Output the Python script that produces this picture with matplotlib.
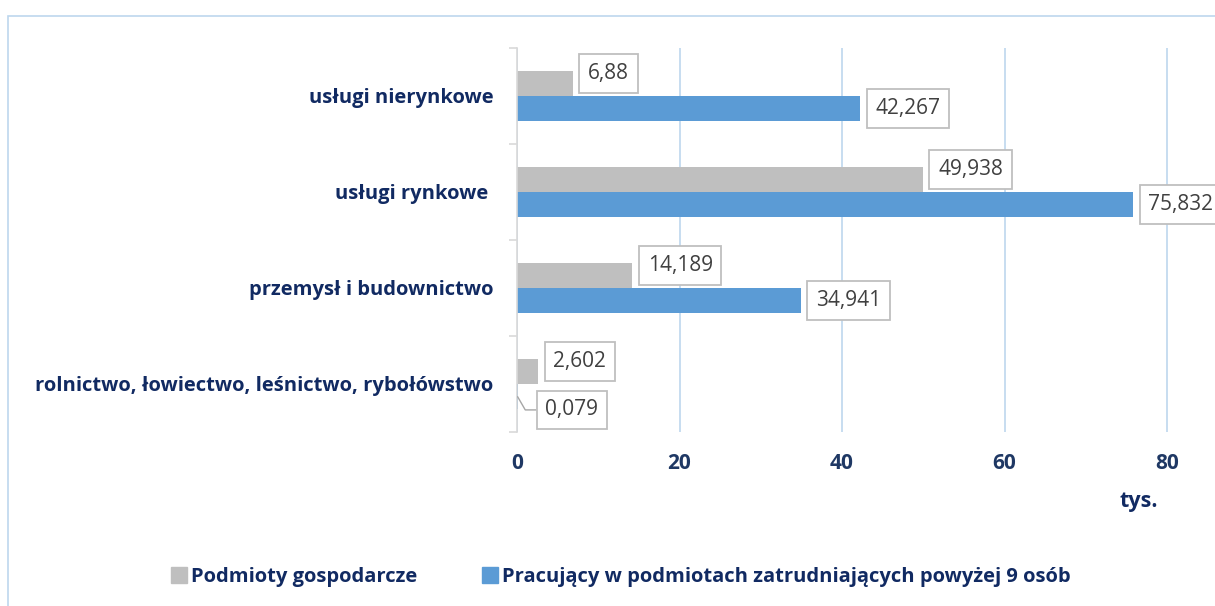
import matplotlib.pyplot as plt
import numpy as np
from matplotlib.patches import Rectangle, Patch

plt.rcParams['font.family'] = ['Open Sans', 'DejaVu Sans']

# data (thousands)
categories = ['rolnictwo, łowiectwo, leśnictwo, rybołówstwo',
              'przemysł i budownictwo',
              'usługi rynkowe ',
              'usługi nierynkowe']
podmioty = [2.602, 14.189, 49.938, 6.88]
pracujacy = [0.079, 34.941, 75.832, 42.267]
podmioty_lbl = ['2,602', '14,189', '49,938', '6,88']
pracujacy_lbl = ['0,079', '34,941', '75,832', '42,267']
series_names = ['Podmioty gospodarcze',
                'Pracujący w podmiotach zatrudniających powyżej 9 osób']

navy = '#1F3864'
navy_dark = '#112A62'
c_gray = '#BFBFBF'
c_blue = '#5B9BD5'

fig = plt.figure(figsize=(12.15, 6.06), dpi=100)
ax = fig.add_axes([517/1215, 1-432/606, 1-517/1215, (432-48)/606])

# chart area border
fig.patches.append(Rectangle((8/1215, -0.1), 1.2, 1-16/606+0.1, transform=fig.transFigure,
                             fill=False, edgecolor='#BDD7EE', lw=1.2))

y = np.arange(len(categories))
h = 0.265
ax.barh(y + h/2, podmioty, height=h, color=c_gray, zorder=2)
ax.barh(y - h/2, pracujacy, height=h, color=c_blue, zorder=2)

box = dict(boxstyle='square,pad=0.42', fc='white', ec='#BFBFBF', lw=1.3)
lbl_kw = dict(textcoords='offset points', va='center', ha='left',
              fontsize=15, color='#404040', bbox=box, zorder=3)
for i in range(len(categories)):
    ax.annotate(podmioty_lbl[i], (podmioty[i], y[i] + h/2), xytext=(11, 7), **lbl_kw)
    if i == 0:
        ax.annotate(pracujacy_lbl[i], (pracujacy[i], y[i] - h/2), xytext=(20, -9.5),
                    arrowprops=dict(arrowstyle='-', color='#A6A6A6', lw=1,
                                    connectionstyle='angle,angleA=0,angleB=-60,rad=0',
                                    shrinkA=0, shrinkB=0), **lbl_kw)
    else:
        ax.annotate(pracujacy_lbl[i], (pracujacy[i], y[i] - h/2), xytext=(11, 0), **lbl_kw)

ax.set_xlim(0, 85.9)
ax.set_ylim(-0.5, len(categories) - 0.5)
ax.set_xticks([0, 20, 40, 60, 80])
ax.xaxis.grid(True, color='#BDD7EE', lw=1.2)
ax.set_axisbelow(True)

ax.set_yticks(np.arange(-0.5, len(categories), 1.0))
ax.set_yticklabels([])
ax.set_yticks(y, minor=True)
ax.set_yticklabels(categories, minor=True, fontsize=14.5, fontweight='bold', color=navy_dark)
ax.tick_params(axis='y', which='minor', length=0, pad=17)
ax.tick_params(axis='y', which='major', length=6, color='#D9D9D9', width=1.2)
ax.tick_params(axis='x', length=0, pad=15, labelsize=15, labelcolor=navy)
for lab in ax.get_xticklabels():
    lab.set_fontweight('bold')

for s in ['top', 'right', 'bottom']:
    ax.spines[s].set_visible(False)
ax.spines['left'].set_color('#D9D9D9')
ax.spines['left'].set_linewidth(1.2)

fig.text(1139/1215, 1-502/606, 'tys.', ha='center', va='center', fontsize=15.5,
         fontweight='bold', color=navy_dark)

handles = [Patch(color=c_gray), Patch(color=c_blue)]
fig.legend(handles, series_names, loc='center', bbox_to_anchor=(0.511, 1-577/606),
           ncol=2, frameon=False, handlelength=0.8, handleheight=0.8, handletextpad=0.2,
           columnspacing=3.2, prop=dict(size=14.5, weight='bold'), labelcolor=navy_dark)

fig.savefig('out.png', dpi=100)
